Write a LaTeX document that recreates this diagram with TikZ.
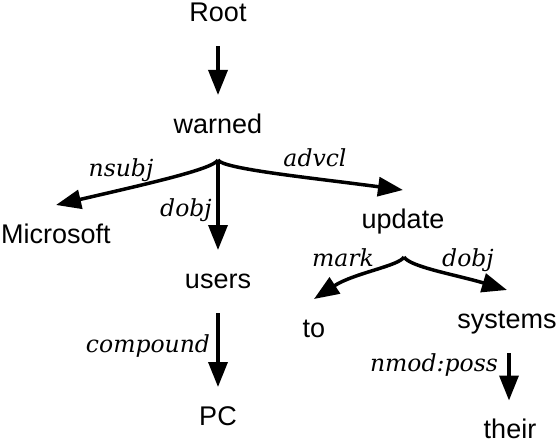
\documentclass[tikz,border=0pt]{standalone}
\usepackage{fontspec}
\newfontfamily\wordfont{Liberation Sans}
\newfontfamily\relfont{DejaVu Serif}
\usetikzlibrary{arrows.meta}
\begin{document}
\begin{tikzpicture}[x=1pt,y=-1pt,
			word/.style={font=\wordfont\fontsize{27}{30}\selectfont,inner sep=0pt,outer sep=20pt,text height=18pt,text depth=5pt},
			rel/.style={font=\relfont\itshape\fontsize{23.5}{28}\selectfont,inner sep=0pt},
			dep/.style={line width=3.5pt,-{Triangle[length=25pt,width=19pt]}},]
\useasboundingbox (0,0) rectangle (560,444);
% words
\node[word] (root) at (218,15) {Root};
\node[word] (warned) at (218,126.5) {warned};
\node[word] (microsoft) at (56,236.5) {Microsoft};
\node[word] (users) at (218,281.5) {users};
\node[word] (pc) at (218,418.5) {PC};
\node[word] (update) at (403,221.5) {update};
\node[word] (to) at (314,330.5) {to};
\node[word] (systems) at (507,321.5) {systems};
\node[word] (their) at (510,432) {their};
\coordinate (wb) at (218,160);
\coordinate (ub) at (404,257);
% dependencies
\draw[dep] (root) -- (warned);
\draw[dep] (wb) .. controls +(-5,9) and +(95,-22) .. (microsoft.north);
\draw[dep] (wb) -- (users.north);
\draw[dep] (wb) .. controls +(5,9) and +(-90,-12) .. (update.north);
\draw[dep] (users) -- (pc);
\draw[dep] (ub) .. controls +(-5,9) and +(40,-26) .. (to.north);
\draw[dep] (ub) .. controls +(6,10) and +(-50,-15) .. (systems.north);
\draw[dep] ([xshift=2pt]systems.south) -- ([xshift=2pt]systems.south |- their.north);
% labels
\node[rel] (l-nsubj) at (121,170) {nsubj};
\node[rel] (l-dobj) at (186,210) {dobj};
\node[rel] (l-advcl) at (315,158) {advcl};
\node[rel] (l-compound) at (148,346) {compound};
\node[rel] (l-mark) at (343,258) {mark};
\node[rel] (l-dobj2) at (468,260) {dobj};
\node[rel] (l-nmod) at (434,365) {nmod:poss};
\end{tikzpicture}
\end{document}
